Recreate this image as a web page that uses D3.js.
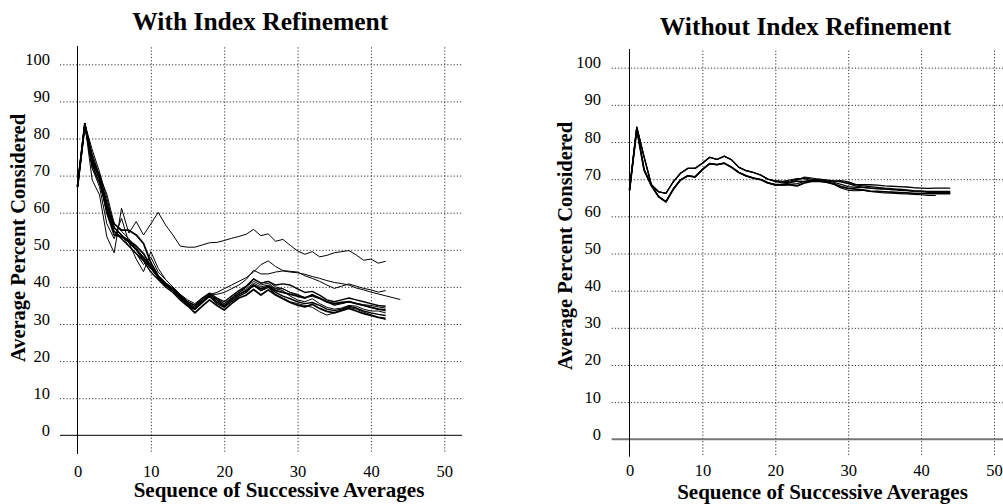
<!DOCTYPE html>
<html><head><meta charset="utf-8">
<script src="https://cdn.jsdelivr.net/npm/d3@7"></script>
<style>
body{margin:0;background:#fff;}
svg{display:block;}
text{font-family:"Liberation Serif","Times New Roman",serif;fill:#000;}
</style></head>
<body>
<svg id="chart" width="1003" height="504"></svg>
<script>
// ---------- DATA ----------
const xTicks = [0,10,20,30,40,50];
const yTicks = [0,10,20,30,40,50,60,70,80,90,100];
const titles = ["With Index Refinement","Without Index Refinement"];
const xLabel = "Sequence of Successive Averages";
const yLabel = "Average Percent Considered";

// Left panel: With Index Refinement (values for x = 0,1,2,...)
const withA = [67,84,68.8,64.8,53.5,49.2,61.2,54.5,57.6,54,57,60.1,56.7,54,51,50.7,50.7,51.3,51.9,52,52.5,53.1,53.6,54.2,55.5,53.8,54.3,52.3,52.8,51.2,49.7,48.8,49.5,48.1,48.5,49.2,49.5,49.8,48.6,47.2,47.5,46.4,46.9];
const withB = [67,83,76,70,63,56,54,51,49,46,48,44,42,40,38,36.5,35.5,37,38,38.5,39.5,40.5,41.5,42.5,44,46,47,45.5,44.4,44.2,44,43,42.3,41.5,40.5,39.6,40.2,40.8,40.2,39.6,39.2,38.6,39];
const withC = [67,84,75,70,65,57,55,53,50,47,45,43,41,39.5,37.5,36,35,36.5,38,38,38.5,39.5,40.5,42,44.5,43.5,43.5,44,44.3,44,43.8,43.4,42.8,42.3,41.7,41.2,40.9,40.5,39.7,39.2,38.6,38.1,37.6,37.1,36.6];
const withD = [67,84,72,67,57,53,58.5,52,47.5,44.1,49.5,45,42,40,38,36,35,37,38,36.5,35.5,37,38.5,40,42,41,41.5,40,39.5,38.5,38,37,38,37,36,35,35.5,36,35.5,35,34.5,34,33.5];
const withE = [67,84,73,70,60,54,53.5,52.5,51,49,45.5,42.5,40.5,39,37,35,33,34.8,36.5,35,33.8,35.5,37,37.8,39.3,37.8,39.2,37.8,36.8,35.8,35.1,34.6,35.3,34.2,33.4,33,33.6,34.2,33.5,32.8,32.3,31.8,31.5];
const withF = [67,83.5,74,70,62,57,55.3,55.3,54,51.7,46.5,43,41,39.5,37.5,35.5,34,35.8,37.5,36,34.8,36.5,38,39,40.5,39.5,40.2,39,38.5,38,37.5,37,37.8,37,36,35.5,35.8,36,35.5,35,34.5,34,33.8];
const withG = [67,84,77,71,64,56,54,52,50,48,45,42.5,40.5,39,37.2,35.5,34.5,36.5,38,36.5,35,37,38.5,40,41.5,40.5,41,39.5,39.5,38.5,37.8,37.2,37.5,36.8,35.8,35.3,35.5,36,35.6,35.2,35,34.6,34.3];
const withH = [67,84,75,69,60,55,53,51,49,47,44,42,40,38.5,36.5,34.8,34,36,37.5,35.5,34.5,36,37.5,38.5,40.5,39,40,38.5,37.5,36.8,36,35.5,35.8,35,34,33.6,34,34.8,34.3,33.5,33,32.6,32.3];
const withI = [67,84,73,68,61,56,54,52,50,47.5,45,42.8,41,39.5,37.8,36,35,37,38.3,37,36,37.5,39,40.2,42.2,41,41.5,40.5,40.8,40.5,39.5,38.5,38.8,37.8,36.5,36,36.5,37,36.5,36,35.5,35,34.8];
const withJ = [67,84,74,69,61,56,54,52.5,50.5,48,45.5,43,41,39.5,37.5,35.8,34.5,36.2,37.8,36.8,35.5,37,38.5,39.5,41,40,40.5,39.5,39,37.5,36.5,36,36.8,35.5,34.5,34,34.3,35,34.8,34,33.5,33.5,33];
const withK = [67,84,72,68,61,55,53.5,52,50,48,45,42.5,40.5,39,37,35.5,34.2,36,37.8,36.5,35,36.5,38,39,40.5,39,39.8,38,37,36,35.5,35,34.5,33.3,32.4,33,33.8,34.5,34,33.2,32.5,31.8,31.2];
const withSeries = [withA,withB,withC,withD,withE,withF,withG,withH,withI,withJ,withK];
const withWidths = [1,1,1,1,1.8,1.8,1,1.4,1.4,1,1];

// Right panel: Without Index Refinement
const woA = [67,84,76,68.5,66.6,66.2,69.3,71.6,72.9,72.9,74.3,75.9,75.3,76.2,75.2,73.2,72.3,71.8,71.1,70,69.5,69.3,69.5,70,70.3,70,69.8,69.6,69.5,69.6,69.3,68.6,68.5,68.5,68.4,68.2,68.1,68,67.9,67.7,67.6,67.5,67.6,67.6,67.6];
const woB = [67,83.5,72.5,68.3,65.3,63.9,67.3,69.8,70.9,70.6,72.6,74.2,73.9,74.3,73.2,71.8,70.9,70.3,69.9,69,68.5,68.5,68.5,68.2,69,69.4,69.5,69.2,68.8,68,67.5,67.3,67.1,66.8,66.7,66.6,66.5,66.4,66.3,66.2,66.1,66.1,66.1,66.1,66.1];
const woC = [67,84,76,68.5,66.6,66.2,69.3,71.6,72.9,72.9,74.3,75.9,75.3,76.2,75.2,73.2,72.3,71.8,71.1,70,69.3,69,69.2,69.8,70.6,70.3,70,69.6,69.2,68.6,68,67.8,67.8,67.6,67.5,67.4,67.2,67,66.9,66.7,66.6,66.4,66.4,66.3,66.2];
const woD = [67,83.5,72.5,68.3,65.3,63.9,67.3,69.8,70.9,70.6,72.6,74.2,73.9,74.3,73.2,71.8,70.9,70.3,69.9,69,68.4,68.6,69,69.5,69.4,69.6,70,69.8,69.5,69.3,68.8,68.2,67.8,67.6,67.4,67.3,67.2,67.3,67.1,66.9,66.8,66.7,66.7,66.7,66.7];
const woE = [67,83.5,72.5,68.3,65.3,63.9,67.3,69.8,70.9,70.6,72.6,74.2,73.9,74.3,73.2,71.8,70.9,70.3,69.9,69,68.6,68.4,68.6,68.8,69.4,69.8,69.6,69.2,68.6,67.6,67,66.9,67,66.7,66.5,66.3,66.2,66.1,66,65.9,65.8,65.6,65.6];
const woF = [67,84,76,68.5,66.6,66.2,69.3,71.6,72.9,72.9,74.3,75.9,75.3,76.2,75.2,73.2,72.3,71.8,71.1,70,69.6,69.4,69.8,70.2,70.1,69.6,69.4,69.2,69.5,69.4,68.9,68.5,68.2,68,67.8,67.6,67.5,67.2,67,66.8,66.8,66.6,66.5,66.4,66.4];
const woSeries = [woA,woB,woC,woD,woE,woF];
const woWidths = [1.3,1.8,1.1,1.3,1.1,1.1];

// ---------- DRAW ----------
const svg = d3.select("#chart");

function panel(cfg){
  const g = svg.append("g");
  const x = d3.scaleLinear().domain([0,50]).range([cfg.x0, cfg.x50]);
  const y = d3.scaleLinear().domain([0,100]).range([cfg.y0, cfg.y100]);

  // horizontal dotted grid
  const hg = g.append("g").attr("transform",`translate(${cfg.gridL},0)`)
    .call(d3.axisLeft(y).tickValues(yTicks.filter(v=>v>0)).tickSize(-(cfg.gridR-cfg.gridL)).tickFormat(""));
  hg.select(".domain").remove();
  hg.selectAll("line").attr("stroke","#333").attr("stroke-width",1).attr("stroke-dasharray","1.2,2");

  // vertical dotted grid
  const vg = g.append("g").attr("transform",`translate(0,${cfg.vBot})`)
    .call(d3.axisBottom(x).tickValues(xTicks.filter(v=>v>0)).tickSize(-(cfg.vBot-cfg.vTop)).tickFormat(""));
  vg.select(".domain").remove();
  vg.selectAll("line").attr("stroke","#333").attr("stroke-width",1).attr("stroke-dasharray","1.2,2");

  // zero baseline
  g.append("line").attr("x1",cfg.gridL).attr("x2",cfg.gridR).attr("y1",y(0)).attr("y2",y(0))
    .attr("stroke",cfg.baseColor).attr("stroke-width",cfg.baseWidth);
  // y axis line
  g.append("line").attr("x1",x(0)).attr("x2",x(0)).attr("y1",cfg.axTop).attr("y2",cfg.axBot)
    .attr("stroke","#000").attr("stroke-width",1);

  // y tick labels
  const ya = g.append("g").attr("transform",`translate(${cfg.yLabRight},0)`)
    .call(d3.axisLeft(y).tickValues(yTicks).tickSize(0).tickPadding(0));
  ya.select(".domain").remove();
  ya.attr("font-family",null);
  ya.selectAll("text").attr("font-size",16.5).attr("dy","0.0em")
    .style("font-family","'Liberation Serif',serif").attr("fill","#111");

  // x tick labels
  const xa = g.append("g").attr("transform",`translate(0,${cfg.xTickBase})`)
    .call(d3.axisBottom(x).tickValues(xTicks).tickSize(0).tickPadding(0));
  xa.select(".domain").remove();
  xa.attr("font-family",null);
  xa.selectAll("text").attr("font-size",16.5).attr("dy","0").attr("y",0)
    .style("font-family","'Liberation Serif',serif").attr("fill","#111");

  // series lines
  const line = d3.line().x((d,i)=>x(i)).y(d=>y(d));
  g.selectAll("path.series").data(cfg.series).join("path")
    .attr("class","series")
    .attr("d",line)
    .attr("fill","none")
    .attr("stroke","#000")
    .attr("stroke-width",(d,i)=>cfg.widths[i])
    .attr("stroke-linejoin","round");

  // titles
  g.append("text").attr("x",cfg.titleX).attr("y",cfg.titleY).attr("text-anchor","middle")
    .attr("font-size",25.5).attr("font-weight","bold").text(cfg.title);
  g.append("text").attr("x",cfg.xLabX).attr("y",cfg.xLabY).attr("text-anchor","middle")
    .attr("font-size",21).attr("font-weight","bold").text(xLabel);
  g.append("text").attr("transform",`translate(${cfg.yLabX},${cfg.yLabY}) rotate(-90)`)
    .attr("text-anchor","middle").attr("font-size",20.5).attr("font-weight","bold").text(yLabel);
}

panel({
  x0:77.5, x50:444.3, y0:435.3, y100:64.3,
  gridL:60, gridR:462, vTop:46.7, vBot:451.7, axTop:46, axBot:454,
  baseColor:"#000", baseWidth:1,
  yLabRight:50, xTickBase:477,
  series:withSeries, widths:withWidths,
  title:titles[0], titleX:260.3, titleY:29.5,
  xLabX:279, xLabY:497, yLabX:24.5, yLabY:238
});

panel({
  x0:629.5, x50:994, y0:439.3, y100:67.7,
  gridL:611.7, gridR:1003, vTop:50, vBot:455, axTop:49, axBot:456.7,
  baseColor:"#777", baseWidth:2,
  yLabRight:601, xTickBase:476,
  series:woSeries, widths:woWidths,
  title:titles[1], titleX:805.5, titleY:34.5,
  xLabX:822.5, xLabY:499, yLabX:572, yLabY:246
});
</script>
</body></html>
